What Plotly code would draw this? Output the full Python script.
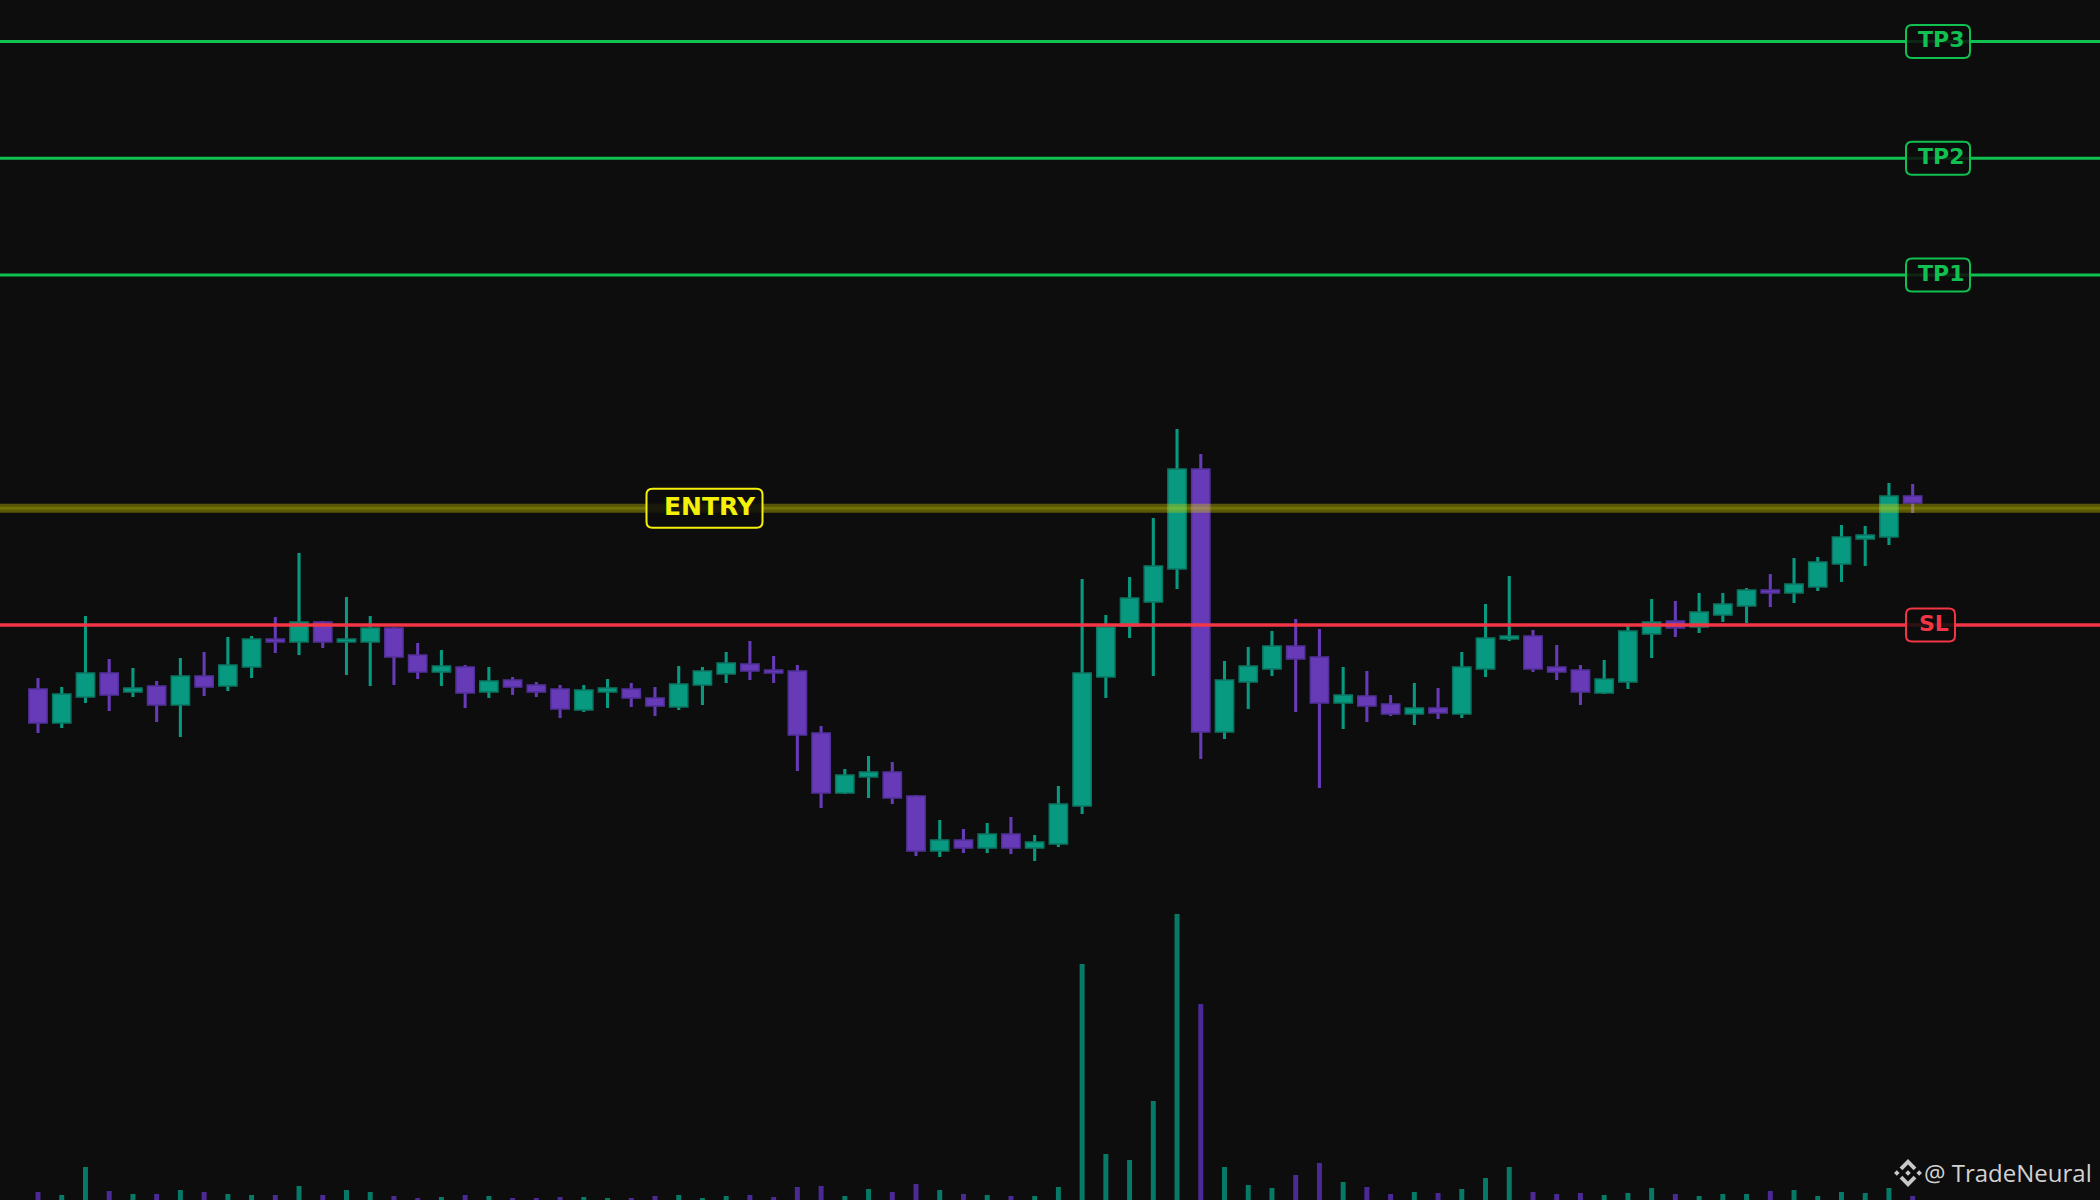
import plotly.graph_objects as go

# ---------------- data (price units) ----------------
open_ = [31.1, 27.7, 30.3, 32.7, 30.8, 31.4, 29.5, 32.4, 31.4, 33.3,
         36.1, 35.8, 37.8, 35.8, 35.8, 37.2, 34.5, 32.8, 33.3, 30.8,
         32.0, 31.5, 31.1, 29.0, 30.8, 31.1, 30.2, 29.3, 31.5, 32.6,
         33.6, 33.0, 32.9, 26.7, 20.7, 22.3, 22.8, 20.4, 14.9, 16.0,
         15.2, 16.6, 15.2, 15.6, 19.4, 32.3, 37.4, 39.8, 43.1, 53.1,
         26.8, 31.8, 33.1, 35.4, 34.3, 29.7, 30.4, 29.6, 28.6, 29.2,
         28.6, 33.1, 36.1, 36.4, 33.3, 33.0, 30.7, 31.8, 36.6, 37.9,
         37.3, 38.5, 39.4, 41.0, 40.7, 41.3, 43.6, 46.1, 46.3, 50.4]
high = [32.2, 31.3, 38.4, 34.1, 33.2, 31.9, 34.2, 34.8, 36.3, 36.4,
        38.3, 44.7, 37.9, 40.3, 38.4, 37.3, 35.7, 35.0, 33.5, 33.3,
        32.3, 31.8, 31.5, 31.5, 32.1, 31.7, 31.3, 33.4, 33.3, 34.8,
        35.9, 34.4, 33.5, 27.4, 23.1, 24.4, 23.8, 20.5, 18.0, 17.1,
        17.7, 18.3, 16.5, 21.4, 42.1, 38.5, 42.3, 48.2, 57.1, 54.6,
        33.9, 35.3, 36.9, 38.1, 37.1, 33.3, 32.9, 30.5, 31.7, 31.2,
        34.8, 39.6, 42.4, 37.0, 35.5, 33.5, 34.0, 37.4, 40.1, 39.9,
        40.7, 40.7, 41.2, 42.6, 44.2, 44.3, 47.5, 47.4, 51.7, 51.6]
low = [26.7, 27.2, 29.7, 28.9, 30.3, 27.8, 26.3, 30.4, 30.9, 32.2,
       34.7, 34.5, 35.2, 32.5, 31.4, 31.5, 32.1, 31.4, 29.2, 30.2,
       30.5, 30.3, 28.2, 28.8, 29.2, 29.3, 28.4, 29.0, 29.5, 31.7,
       32.0, 31.7, 22.9, 19.2, 20.6, 20.2, 19.6, 14.4, 14.3, 14.7,
       14.7, 14.6, 13.9, 15.3, 18.6, 30.2, 36.2, 32.4, 41.1, 24.1,
       26.1, 29.1, 32.4, 28.8, 21.2, 27.1, 27.8, 28.4, 27.5, 28.1,
       28.2, 32.3, 35.9, 32.8, 32.0, 29.5, 30.6, 31.1, 34.2, 36.3,
       36.7, 37.8, 37.7, 39.3, 39.7, 40.9, 41.8, 43.4, 45.5, 48.7]
close = [27.7, 30.6, 32.7, 30.5, 31.2, 29.5, 32.4, 31.3, 33.5, 36.1,
         35.8, 37.8, 35.8, 36.1, 37.2, 34.3, 32.8, 33.4, 30.7, 31.9,
         31.3, 30.8, 29.1, 31.0, 31.2, 30.2, 29.4, 31.6, 32.9, 33.7,
         32.9, 32.7, 26.5, 20.7, 22.5, 22.8, 20.2, 14.9, 16.0, 15.2,
         16.6, 15.2, 15.8, 19.6, 32.7, 37.3, 40.2, 43.4, 53.1, 26.8,
         32.0, 33.4, 35.4, 34.1, 29.7, 30.5, 29.4, 28.6, 29.2, 28.7,
         33.3, 36.2, 36.4, 33.1, 32.8, 30.8, 32.1, 36.9, 37.8, 37.2,
         38.8, 39.6, 41.0, 40.7, 41.6, 43.8, 46.3, 46.5, 50.4, 49.7]
volume = [8, 5, 33, 9, 6, 6, 10, 8, 6, 5,
          5, 14, 5, 10, 8, 4, 2, 3, 5, 4,
          2, 2, 3, 3, 2, 2, 4, 5, 2, 4,
          5, 3, 13, 14, 4, 11, 8, 16, 10, 6,
          5, 4, 4, 13, 236, 46, 40, 99, 286, 196,
          33, 15, 12, 25, 37, 18, 13, 6, 8, 7,
          11, 22, 33, 8, 6, 7, 5, 7, 12, 6,
          4, 6, 6, 9, 10, 4, 8, 7, 12, 4]

ENTRY = 49.17
STOP = 37.5
TAKE_PROFITS = [72.5, 84.17, 95.85]
TP_LABELS = ["TP1", "TP2", "TP3"]
WATERMARK = "@ TradeNeural"

# ---------------- styling ----------------
W, H = 2100, 1200
BG = "#0d0d0d"
UP, DOWN = "#089981", "#673ab7"
UP_EDGE, DOWN_EDGE = "#0b7562", "#52309a"
VOL_UP, VOL_DOWN = "#067a66", "#4b2a96"
GREEN, RED, YELLOW = "#10c050", "#f23645", "#f5f00a"

x = list(range(len(open_)))
is_up = [c >= o for o, c in zip(open_, close)]
fill = [UP if u else DOWN for u in is_up]
edge = [UP_EDGE if u else DOWN_EDGE for u in is_up]
vcol = [VOL_UP if u else VOL_DOWN for u in is_up]

fig = go.Figure()
# volume
fig.add_trace(go.Bar(x=x, y=volume, width=0.21, marker=dict(color=vcol, line=dict(width=0)),
                     yaxis="y2", hoverinfo="skip"))
# wicks
fig.add_trace(go.Bar(x=x, y=[h - l for h, l in zip(high, low)], base=low, width=0.13,
                     marker=dict(color=fill, line=dict(width=0)), hoverinfo="skip"))
# bodies
fig.add_trace(go.Bar(x=x, y=[max(abs(c - o), 0.3) for o, c in zip(open_, close)],
                     base=[min(o, c) for o, c in zip(open_, close)], width=0.77,
                     marker=dict(color=fill, line=dict(color=edge, width=1.5)),
                     customdata=list(zip(open_, high, low, close)),
                     hovertemplate="O %{customdata[0]}<br>H %{customdata[1]}<br>L %{customdata[2]}<br>C %{customdata[3]}<extra></extra>"))

X0, DX = 38, 23.73  # pixel position of first candle and candle spacing
fig.update_layout(
    width=W, height=H, margin=dict(l=0, r=0, t=0, b=0),
    paper_bgcolor=BG, plot_bgcolor=BG, showlegend=False, barmode="overlay",
    xaxis=dict(range=[-X0 / DX, (W - X0) / DX], visible=False, fixedrange=True),
    yaxis=dict(range=[-20, 100], visible=False, fixedrange=True),
    yaxis2=dict(range=[0, 1200], overlaying="y", visible=False, fixedrange=True),
)

shapes = []
# level lines
for lvl in TAKE_PROFITS:
    shapes.append(dict(type="line", xref="paper", yref="y", x0=0, x1=1, y0=lvl, y1=lvl,
                       line=dict(color=GREEN, width=3), layer="above"))
shapes.append(dict(type="line", xref="paper", yref="y", x0=0, x1=1, y0=STOP, y1=STOP,
                   line=dict(color=RED, width=3.5), layer="above"))
shapes.append(dict(type="line", xref="paper", yref="y", x0=0, x1=1, y0=ENTRY, y1=ENTRY,
                   line=dict(color="rgba(200,200,0,0.40)", width=9), layer="above"))
shapes.append(dict(type="line", xref="paper", yref="y", x0=0, x1=1, y0=ENTRY, y1=ENTRY,
                   line=dict(color="rgba(235,235,0,0.18)", width=3), layer="above"))


def rrect(w, h, r):
    return (f"M{-w + r},{-h} L{w - r},{-h} Q{w},{-h} {w},{-h + r} L{w},{h - r} Q{w},{h} {w - r},{h} "
            f"L{-w + r},{h} Q{-w},{h} {-w},{h - r} L{-w},{-h + r} Q{-w},{-h} {-w + r},{-h} Z")


def label(cx, level, w, h, color, text, tx, size):
    shapes.append(dict(type="path", xref="paper", yref="y", xsizemode="pixel", ysizemode="pixel",
                       xanchor=cx / W, yanchor=level, path=rrect(w, h, 6),
                       line=dict(color=color, width=2), fillcolor="rgba(13,13,13,0.86)", layer="above"))
    fig.add_annotation(x=tx / W, y=level, xref="paper", yref="y", xanchor="center", yanchor="middle",
                       text=f"<b>{text}</b>", showarrow=False, yshift=2,
                       font=dict(family="DejaVu Sans", size=size, color=color))


for lvl, name in zip(TAKE_PROFITS, TP_LABELS):
    label(1938, lvl, 32, 16.5, GREEN, name, 1941, 22)
label(1930.5, STOP, 24.5, 16.5, RED, "SL", 1933.5, 22)
label(704.5, ENTRY, 58, 19.5, YELLOW, "ENTRY", 710, 25)

# watermark logo (Binance-style diamond mark)
s = 14
parts = [
    [(0, 0.2), (0.2, 0), (0, -0.2), (-0.2, 0)],
    [(-0.8, 0.2), (-0.6, 0), (-0.8, -0.2), (-1.0, 0)],
    [(0.8, 0.2), (1.0, 0), (0.8, -0.2), (0.6, 0)],
    [(0, 1.0), (0.6, 0.4), (0.4, 0.2), (0, 0.6), (-0.4, 0.2), (-0.6, 0.4)],
    [(0, -1.0), (0.6, -0.4), (0.4, -0.2), (0, -0.6), (-0.4, -0.2), (-0.6, -0.4)],
]
logo = " ".join("M" + " L".join(f"{px * s:.1f},{py * s:.1f}" for px, py in p) + " Z" for p in parts)
shapes.append(dict(type="path", xref="paper", yref="paper", xsizemode="pixel", ysizemode="pixel",
                   xanchor=1908 / W, yanchor=1 - 1173 / H, path=logo,
                   line=dict(width=0), fillcolor="#c8c8c8", layer="above"))
fig.add_annotation(x=2094 / W, y=1 - 1172 / H, xref="paper", yref="paper", xanchor="right",
                   yanchor="middle", text=WATERMARK, showarrow=False,
                   font=dict(family="Open Sans", size=24, color="#d2d2d2"))

fig.update_layout(shapes=shapes)
fig.write_html("out.html", config={"displayModeBar": False},
               post_script="document.body.style.margin='0';document.body.style.overflow='hidden';")
